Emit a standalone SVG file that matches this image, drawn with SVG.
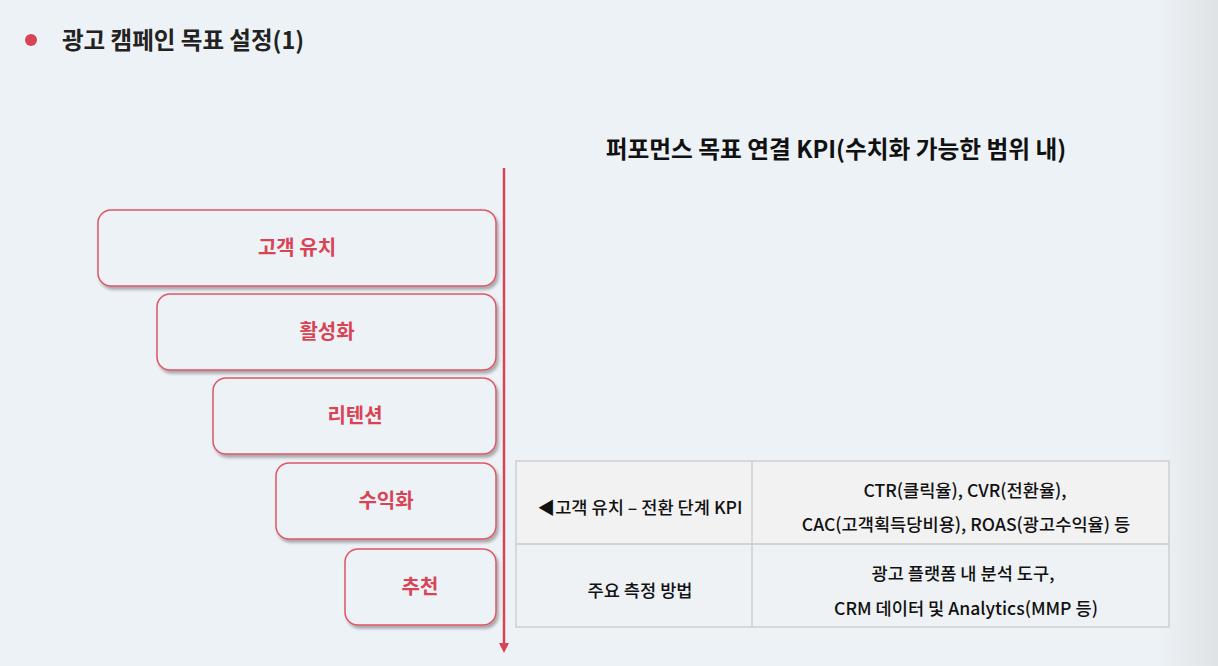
<svg xmlns="http://www.w3.org/2000/svg" width="1218" height="666" viewBox="0 0 1218 666">
<defs>
<linearGradient id="bg" x1="0" y1="0" x2="1" y2="0">
<stop offset="0" stop-color="#edf2f6"/>
<stop offset="0.95" stop-color="#edf2f6"/>
<stop offset="1" stop-color="#dfe3e6"/>
</linearGradient>
<filter id="sh" x="-10%" y="-10%" width="125%" height="140%">
<feDropShadow dx="2" dy="3" stdDeviation="1.5" flood-color="#000" flood-opacity="0.3"/>
</filter>
<marker id="arr" markerWidth="10" markerHeight="10" refX="5" refY="5" orient="auto" markerUnits="userSpaceOnUse" viewBox="0 0 10 10">
<path d="M0,0 L10,5 L0,10 z" fill="#d94455"/>
</marker>
<style>
.box{fill:#edf2f6;stroke:#e05565;stroke-width:1.5;filter:url(#sh)}
.lbl{font-family:"Noto Sans CJK KR","Noto Sans",sans-serif;font-weight:700;font-size:20px;fill:#d94455;text-anchor:middle}
.cell{font-family:"Noto Sans CJK KR","Noto Sans",sans-serif;font-weight:500;font-size:17.6px;fill:#111;text-anchor:middle}
.tb{stroke:#c9c9c9;stroke-width:1.3;fill:none}
</style>
</defs>
<rect width="1218" height="666" fill="url(#bg)"/>
<g id="header">
<circle cx="31" cy="40" r="6" fill="#d94455"/>
<text x="62" y="49" font-family="'Noto Sans CJK KR','Noto Sans',sans-serif" font-weight="700" font-size="23.5" fill="#222">광고 캠페인 목표 설정(1)</text>
</g>
<g id="title">
<text x="836" y="158" font-family="'Noto Sans CJK KR','Noto Sans',sans-serif" font-weight="700" font-size="23.7" fill="#111" text-anchor="middle">퍼포먼스 목표 연결 KPI(수치화 가능한 범위 내)</text>
</g>
<g id="node-acquisition"><rect class="box" x="98" y="210" width="398" height="76" rx="13"/><text class="lbl" x="297" y="255">고객 유치</text></g>
<g id="node-activation"><rect class="box" x="157" y="294" width="339" height="76" rx="13"/><text class="lbl" x="327" y="339">활성화</text></g>
<g id="node-retention"><rect class="box" x="213" y="378" width="283" height="76" rx="13"/><text class="lbl" x="355" y="423">리텐션</text></g>
<g id="node-revenue"><rect class="box" x="276" y="463" width="220" height="76" rx="13"/><text class="lbl" x="386" y="508">수익화</text></g>
<g id="node-referral"><rect class="box" x="345" y="549" width="151" height="76" rx="13"/><text class="lbl" x="420" y="594">추천</text></g>
<g id="connectors">
<line x1="504" y1="168" x2="504" y2="648" stroke="#d94455" stroke-width="2.5" marker-end="url(#arr)"/>
</g>
<g id="table">
<rect x="516" y="461" width="653" height="83" fill="#f2f2f2"/>
<rect x="516" y="544" width="653" height="83" fill="#eef2f5"/>
<rect class="tb" x="516" y="461" width="653" height="166"/>
<line class="tb" x1="516" y1="544" x2="1169" y2="544"/>
<line class="tb" x1="752" y1="461" x2="752" y2="627"/>
<text class="cell" x="640" y="514">◀고객 유치 – 전환 단계 KPI</text>
<text class="cell" x="640" y="597">주요 측정 방법</text>
<text class="cell" x="965" y="497">CTR(클릭율), CVR(전환율),</text>
<text class="cell" x="966" y="531">CAC(고객획득당비용), ROAS(광고수익율) 등</text>
<text class="cell" x="963" y="580">광고 플랫폼 내 분석 도구,</text>
<text class="cell" x="966" y="615">CRM 데이터 및 Analytics(MMP 등)</text>
</g>
</svg>
